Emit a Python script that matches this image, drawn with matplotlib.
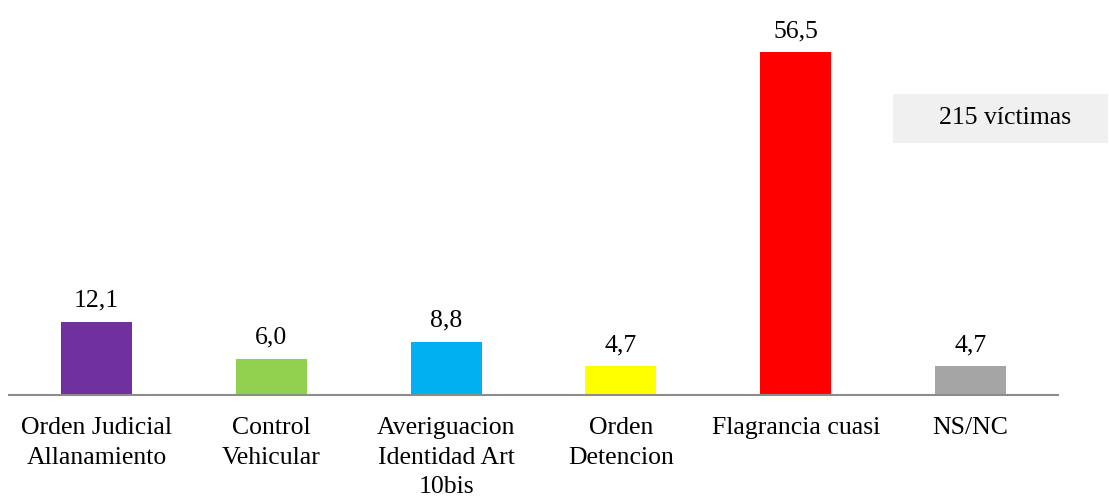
import matplotlib
matplotlib.use('Agg')
import matplotlib.pyplot as plt
from matplotlib.patches import Rectangle

categorias = ['Orden Judicial\nAllanamiento', 'Control\nVehicular',
              'Averiguacion\nIdentidad Art\n10bis', 'Orden\nDetencion',
              'Flagrancia cuasi', 'NS/NC']
valores = [12.1, 6.0, 8.8, 4.7, 56.5, 4.7]
colores = ['#7030A0', '#92D050', '#00B0F0', '#FFFF00', '#FF0000', '#A5A5A5']
nota = '215 víctimas'

plt.rcParams['font.family'] = ['Liberation Serif', 'DejaVu Serif']
fs = 18.5

fig = plt.figure(figsize=(11.09, 4.97), dpi=100)
ax = fig.add_axes([9/1109, 102/497, 1049/1109, 395/497])

x = list(range(len(valores)))
bars = ax.bar(x, valores, width=0.406, color=colores)
for b, v in zip(bars, valores):
    ax.annotate(f'{v:.1f}'.replace('.', ','), (b.get_x() + b.get_width()/2, v),
                xytext=(0, 7), textcoords='offset points',
                ha='center', va='bottom', fontsize=fs)

ax.set_xlim(-0.5, 5.5)
ax.set_ylim(0, 65.1)
ax.set_xticks(x)
ax.set_xticklabels(categorias, fontsize=fs, linespacing=1.44)
ax.tick_params(axis='x', length=0, pad=16)
ax.set_yticks([])
for s in ['top', 'right', 'left']:
    ax.spines[s].set_visible(False)
ax.spines['bottom'].set_color('#8c8c8c')
ax.spines['bottom'].set_linewidth(1.5)

fig.patches.append(Rectangle((893/1109, (497-143)/497), 215/1109, 49/497,
                             transform=fig.transFigure, facecolor='#f0f0f0',
                             edgecolor='none'))
fig.text(1005/1109, (497-118.5)/497, nota, ha='center', va='center', fontsize=fs)

fig.savefig('out.png', dpi=100)
